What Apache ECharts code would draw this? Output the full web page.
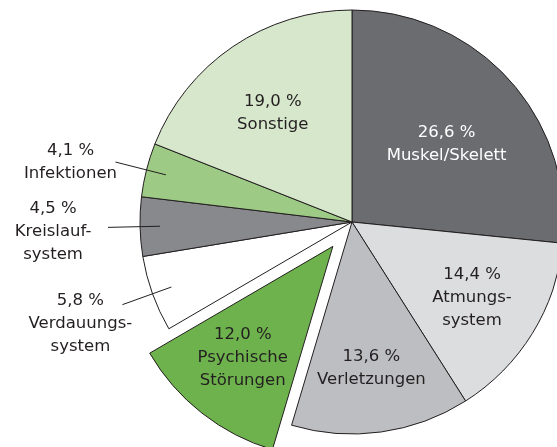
<!DOCTYPE html>
<html>
<head>
<meta charset="utf-8">
<script src="https://cdn.jsdelivr.net/npm/echarts@6/dist/echarts.min.js"></script>
<style>html,body{margin:0;padding:0;background:#fff}#c{width:557px;height:447px}</style>
</head>
<body>
<div id="c"></div>
<script>
// Data (clockwise from 12 o'clock)
const categories = ['Muskel/Skelett', 'Atmungs-\nsystem', 'Verletzungen', 'Psychische\nStörungen', 'Verdauungs-\nsystem', 'Kreislauf-\nsystem', 'Infektionen', 'Sonstige'];
const values = [26.6, 14.4, 13.6, 12.0, 5.8, 4.5, 4.1, 19.0];
const valueLabels = ['26,6 %', '14,4 %', '13,6 %', '12,0 %', '5,8 %', '4,5 %', '4,1 %', '19,0 %'];
const colors = ['#6b6c70', '#dcddde', '#bdbec1', '#6db24c', '#ffffff', '#88898d', '#9dca84', '#d6e7cb'];
const outsideIdx = [4, 5, 6];
const explodedIdx = 3;

const FONT = 'DejaVu Sans';
const FS = 16.5;
const TXT = '#231f20';
const center = [352, 222];
const R = 212;
const OFFSET = 31;

function richText(i, style) {
  return '{' + style + '|' + valueLabels[i] + '}\n' +
    categories[i].split('\n').map(s => '{' + style + '|' + s + '}').join('\n');
}

// main visible pie
const mainData = values.map((v, i) => ({
  value: v,
  name: categories[i],
  selected: i === explodedIdx,
  itemStyle: { color: colors[i] }
}));

// inside-label helper pie (per item nudges via padding)
const insidePad = {
  0: [34, 20, 0, 0],
  1: [4, 0, 0, 0],
  2: [14, 0, 0, 0],
  3: [0, 6, 0, 0],
  7: [16, 0, 0, 0]
};
const insideData = values.map((v, i) => ({
  value: v,
  name: categories[i],
  selected: i === explodedIdx,
  label: outsideIdx.indexOf(i) >= 0 ? { show: false } : {
    show: true,
    padding: insidePad[i] || 0
  }
}));

// outside-label helper pie (per item tweaks)
const outsideTweaks = {
  4: { pad: 38, dist: -9 },
  5: { pad: 8, dist: 4 },
  6: { pad: 0, dist: -6 }
};
const outsideData = values.map((v, i) => {
  const t = outsideTweaks[i];
  if (!t) return { value: v, name: categories[i], label: { show: false }, labelLine: { show: false } };
  return {
    value: v,
    name: categories[i],
    label: { show: true, padding: [t.pad, 0, 0, 0], distanceToLabelLine: t.dist },
    labelLine: { show: true }
  };
});

const chart = echarts.init(document.getElementById('c'), null, { renderer: 'canvas' });
chart.setOption({
  animation: false,
  backgroundColor: '#ffffff',
  series: [
    {
      type: 'pie',
      z: 1,
      center: center,
      radius: [0, R],
      startAngle: 90,
      clockwise: true,
      selectedMode: 'single',
      selectedOffset: OFFSET,
      silent: true,
      label: { show: false },
      labelLine: { show: false },
      itemStyle: { borderColor: '#231f20', borderWidth: 1 },
      select: { itemStyle: { borderColor: '#231f20', borderWidth: 1 } },
      emphasis: { disabled: true },
      data: mainData
    },
    {
      type: 'pie',
      z: 5,
      center: center,
      radius: [64, R],
      startAngle: 90,
      clockwise: true,
      selectedMode: 'single',
      selectedOffset: OFFSET,
      silent: true,
      avoidLabelOverlap: false,
      itemStyle: { color: 'rgba(0,0,0,0)', borderWidth: 0 },
      select: { itemStyle: { color: 'rgba(0,0,0,0)', borderWidth: 0 } },
      emphasis: { disabled: true },
      label: {
        position: 'inside',
        fontFamily: FONT,
        fontSize: FS,
        color: TXT,
        align: 'center',
        formatter: p => richText(p.dataIndex, p.dataIndex === 0 ? 'w' : 'd'),
        rich: {
          d: { fontFamily: FONT, fontSize: FS, lineHeight: 23, color: TXT, align: 'center' },
          w: { fontFamily: FONT, fontSize: FS, lineHeight: 23, color: '#ffffff', align: 'center' }
        }
      },
      labelLine: { show: false },
      data: insideData
    },
    {
      type: 'pie',
      z: 6,
      center: center,
      radius: [0, 192],
      startAngle: 90,
      clockwise: true,
      silent: true,
      avoidLabelOverlap: false,
      itemStyle: { color: 'rgba(0,0,0,0)', borderWidth: 0 },
      emphasis: { disabled: true },
      label: {
        position: 'outside',
        fontFamily: FONT,
        fontSize: FS,
        color: TXT,
        formatter: p => richText(p.dataIndex, 'c'),
        rich: {
          c: { fontFamily: FONT, fontSize: FS, lineHeight: 23, color: TXT, align: 'center', width: 102 }
        }
      },
      labelLine: {
        length: 52,
        length2: 0,
        lineStyle: { color: TXT, width: 1 }
      },
      data: outsideData
    }
  ]
});
</script>
</body>
</html>
